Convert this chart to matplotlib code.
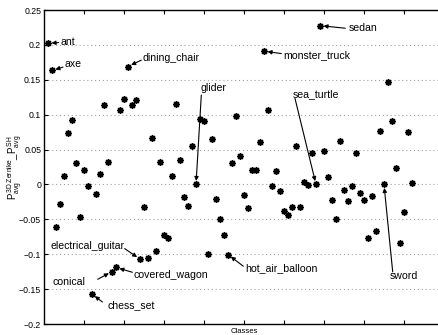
import matplotlib
matplotlib.use("Agg")
import matplotlib.pyplot as plt

# ---------------- data ----------------
classes = list(range(1, 93))
values = [
    0.2024, 0.1633, -0.0604, -0.0281, 0.0119, 0.0733, 0.0919, 0.0304, -0.0471, 0.0200,
    -0.0029, -0.1570, -0.0139, 0.0153, 0.1140, 0.0324, -0.1250, -0.1190, 0.1060, 0.1230,
    0.1690, 0.1140, 0.1210, -0.1070, -0.0319, -0.1050, 0.0671, -0.0953, 0.0324, -0.0724,
    -0.0761, 0.0114, 0.1150, 0.0353, -0.0181, -0.0310, 0.0553, 0.0000, 0.0939, 0.0910,
    -0.1000, 0.0657, -0.0210, -0.0493, -0.0731, -0.1004, 0.0307, 0.0974, 0.0403, -0.0157,
    -0.0339, 0.0200, 0.0214, 0.0614, 0.1910, 0.1074, -0.0021, 0.0189, -0.0093, -0.0383,
    -0.0443, -0.0319, 0.0554, -0.0319, 0.0033, -0.0014, 0.0447, 0.0000, 0.2276, 0.0476,
    0.0107, -0.0221, -0.0500, 0.0629, -0.0076, -0.0233, -0.0021, 0.0447, -0.0124, -0.0229,
    -0.0771, -0.0167, -0.0667, 0.0760, 0.0000, 0.1470, 0.0904, 0.0236, -0.0839, -0.0390,
    0.0746, 0.0021,
]
annotated_classes = [1, 2, 12, 17, 18, 21, 24, 38, 46, 55, 68, 69, 85]
annotated_names = ["ant", "axe", "chess_set", "conical", "covered_wagon", "dining_chair",
                   "electrical_guitar", "glider", "hot_air_balloon", "monster_truck",
                   "sea_turtle", "sedan", "sword"]
ytick_values = [-0.2, -0.15, -0.1, -0.05, 0, 0.05, 0.1, 0.15, 0.2, 0.25]
ytick_labels = ["\u22120.2", "\u22120.15", "\u22120.1", "\u22120.05", "0",
                "0.05", "0.1", "0.15", "0.2", "0.25"]
xtick_values = [10, 20, 30, 40, 50, 60, 70, 80, 90]
x_label = "Classes"
y_label = r"$P^{3D\ Zernike}_{avg}\_P^{SH}_{avg}$"

# ------------- layout / style (offsets in pixels: text anchor, arrow tail) -------------
label_layout = {
    "ant": ((12.3, 1.3), (10.6, 0.6)),
    "axe": ((12.7, 6.4), (11.0, 3.4)),
    "dining_chair": ((14.7, 9.0), (13.3, 6.4)),
    "glider": ((4.7, 96.3), (5.3, 89.3)),
    "sea_turtle": ((-23.7, 90.3), (-21.0, 86.0)),
    "sedan": ((28.6, -2.6), (25.3, -2.6)),
    "monster_truck": ((19.0, -4.0), (17.3, -2.4)),
    "electrical_guitar": ((-89.3, 13.1), (-15.3, 10.5)),
    "conical": ((-59.3, -10.0), (-14.3, -7.6)),
    "covered_wagon": ((17.7, -7.5), (16.4, -4.8)),
    "chess_set": ((16.0, -11.0), (10.4, -8.0)),
    "hot_air_balloon": ((17.0, -14.0), (15.3, -11.7)),
    "sword": ((6.0, -91.7), (8.7, -87.4)),
}

plt.rcParams["font.family"] = ["Liberation Sans", "DejaVu Sans"]
plt.rcParams["mathtext.fontset"] = "custom"
plt.rcParams["mathtext.rm"] = "Liberation Sans"
plt.rcParams["mathtext.it"] = "Liberation Sans"

W, H = 439, 335
fig = plt.figure(figsize=(W / 100, H / 100), dpi=100)
ax = fig.add_axes([44 / W, 11 / H, 400 / W, 314 / H])

ax.plot(classes, values, linestyle="none", marker=(8, 2, 0), markersize=4.7,
        markeredgewidth=1.1, color="black", zorder=3)

ax.set_xlim(0, 100)
ax.set_ylim(-0.2, 0.25)
ax.set_xticks(xtick_values)
ax.set_xticklabels([])
ax.set_yticks(ytick_values)
ax.set_yticklabels(ytick_labels)
ax.tick_params(direction="in", length=3, width=0.8, top=True, right=True,
               labelsize=6.3, pad=2, colors="black")
ax.yaxis.grid(True, linestyle=(0, (1, 2.5)), color="#a0a0a0", linewidth=0.8)
ax.xaxis.grid(False)
for s in ax.spines.values():
    s.set_linewidth(1.0)

ax.set_xlabel(x_label, fontsize=5.5, labelpad=1)
ax.set_ylabel(y_label, fontsize=7, labelpad=-4)

for cls, name in zip(annotated_classes, annotated_names):
    val = values[classes.index(cls)]
    (tx, ty), (ax_, ay_) = label_layout[name]
    ax.annotate(name, xy=(cls, val), xytext=(tx, ty), textcoords="offset pixels",
                ha="left", va="center", fontsize=7.6, zorder=4)
    ax.annotate("", xy=(cls, val), xytext=(ax_, ay_), textcoords="offset pixels",
                arrowprops=dict(arrowstyle="-|>", color="black", lw=0.8,
                                mutation_scale=6, shrinkA=0, shrinkB=2.5),
                zorder=4)

fig.savefig("out.png", dpi=100)
